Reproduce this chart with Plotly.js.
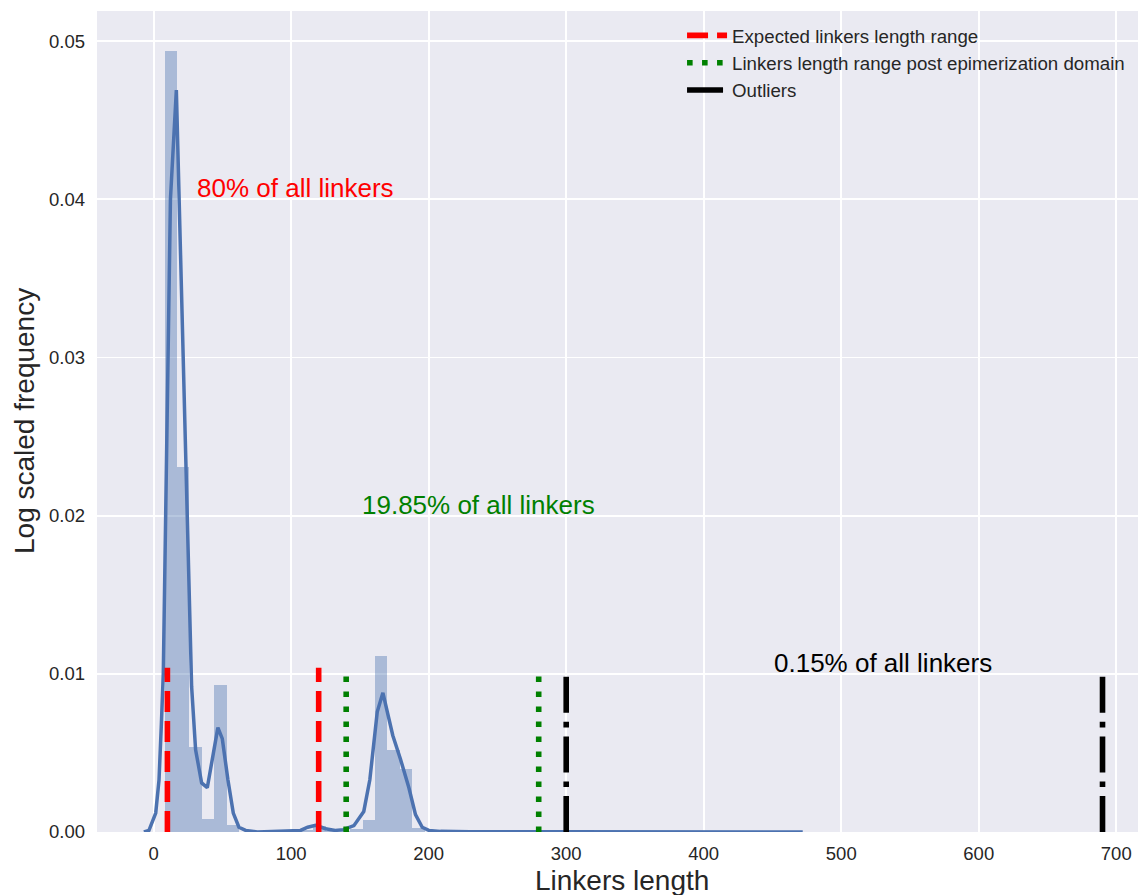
<!DOCTYPE html>
<html>
<head>
<meta charset="utf-8">
<script src="https://cdn.plot.ly/plotly-3.0.1.min.js"></script>
<style>html,body{margin:0;padding:0;background:#fff;}#chart{width:1138px;height:895px;}</style>
</head>
<body>
<div id="chart"></div>
<script>
// Histogram (density) — bin left edges and heights
const binWidth = 9;
const binLeft = [8, 17, 26, 35, 44, 53, 62, 71, 80, 89, 98, 107, 116, 125, 134, 143, 152, 161, 170, 179, 188, 197];
const binDensity = [0.0494, 0.0231, 0.0054, 0.00085, 0.0093, 0.00042, 0.00003, 0, 0, 0, 0.00002, 0.0001, 0.0004, 0.00005, 0.00005, 0.0002, 0.00074, 0.0111, 0.00516, 0.00396, 0.00028, 0.00003];

// KDE curve
const kdeX = [-7.1, -3.4, 1.5, 3.9, 5.6, 7.0, 12.2, 16.5, 27.6, 30.5, 34.9, 39.0, 46.7, 49.9, 54.0, 57.9, 62.0, 66.9, 75.4, 90, 100, 106.8, 112, 117.7, 122, 125, 132, 138, 145.6, 152.8, 157.2, 162.6, 166.7, 169.8, 173.9, 179.5, 185.6, 190.4, 195.3, 200.1, 208.6, 230, 260, 280, 300, 350, 400, 420, 440, 472];
const kdeY = [0, 0.0001, 0.0012, 0.0033, 0.0068, 0.0100, 0.0400, 0.0469, 0.0092, 0.0052, 0.0031, 0.0028, 0.0066, 0.0059, 0.0033, 0.0012, 0.0003, 0.0001, 0, 0.00003, 0.00005, 0.0001, 0.0003, 0.00042, 0.0003, 0.0002, 0.0001, 0.00015, 0.0004, 0.0013, 0.0033, 0.0076, 0.0088, 0.0077, 0.0061, 0.0046, 0.0028, 0.0011, 0.0003, 0.0001, 0.00004, 0.00002, 0.00004, 0.00002, 0.00001, 0.00001, 0.00002, 0.00005, 0.00002, 0];

// Vertical range markers
const expectedX = [10, 120];
const postEpimX = [140, 280];
const outlierX = [300, 690];
const markerTop = 0.01038;
const legendNames = ["Expected linkers length range", "Linkers length range post epimerization domain", "Outliers"];

// Annotations
const noteText = ["80% of all linkers", "19.85% of all linkers", "0.15% of all linkers"];
const noteX = [30, 150, 450];
const noteY = [0.04, 0.02, 0.01];
const noteColor = ["red", "green", "black"];

const xTicks = [0, 100, 200, 300, 400, 500, 600, 700];
const yTicks = [0, 0.01, 0.02, 0.03, 0.04, 0.05];

const FONT = "Arial, 'Liberation Sans', sans-serif";
const traces = [];

traces.push({
  type: 'bar', x: binLeft, y: binDensity, width: binWidth, offset: 0,
  marker: {color: 'rgba(76,114,176,0.4)', line: {width: 0}},
  showlegend: false, hoverinfo: 'skip'
});
traces.push({
  type: 'scatter', mode: 'lines', x: kdeX, y: kdeY,
  line: {color: '#4C72B0', width: 3.5},
  showlegend: false, hoverinfo: 'skip'
});

function vlines(xs, name, color, dash) {
  xs.forEach((x, i) => {
    traces.push({
      type: 'scatter', mode: 'lines', x: [x, x], y: [0, markerTop],
      name: name, legendgroup: name, showlegend: i === 0,
      line: {color: color, width: 5.6, dash: dash}, hoverinfo: 'skip'
    });
  });
}
vlines(expectedX, legendNames[0], 'red', '21px,9px');
vlines(postEpimX, legendNames[1], 'green', '5.6px,9.4px');
vlines(outlierX, legendNames[2], 'black', '36px,9px,5.6px,9px');

const annotations = noteText.map((t, i) => ({
  x: noteX[i], y: noteY[i], xref: 'x', yref: 'y', text: t, showarrow: false,
  xanchor: 'left', yanchor: 'bottom', yshift: -6,
  font: {family: FONT, size: 26, color: noteColor[i]}
}));
annotations.push({
  x: 0.5, y: 0, xref: 'paper', yref: 'paper', text: 'Linkers length', showarrow: false,
  xanchor: 'center', yanchor: 'top', yshift: -31, xshift: 4,
  font: {family: FONT, size: 28, color: '#262626'}
});
annotations.push({
  x: 0, y: 0.5, xref: 'paper', yref: 'paper', text: 'Log scaled frequency', showarrow: false,
  xanchor: 'right', yanchor: 'middle', xshift: -55, textangle: -90,
  font: {family: FONT, size: 28, color: '#262626'}
});

const layout = {
  width: 1138, height: 895,
  margin: {l: 97, r: 0, t: 11, b: 63, pad: 0},
  paper_bgcolor: '#ffffff', plot_bgcolor: '#EAEAF2',
  font: {family: FONT, size: 18.7, color: '#262626'},
  bargap: 0,
  showlegend: true,
  legend: {
    x: 0.562, xanchor: 'left', y: 0.993, yanchor: 'top',
    bgcolor: 'rgba(0,0,0,0)', borderwidth: 0,
    font: {family: FONT, size: 18.7, color: '#262626'},
    tracegroupgap: 0, itemwidth: 40
  },
  xaxis: {
    range: [-41.2, 715.8], tickvals: xTicks, ticktext: xTicks.map(String),
    showgrid: true, gridcolor: '#ffffff', gridwidth: 1.8, zeroline: false,
    showline: false, ticks: '', ticklabelstandoff: 8,
    tickfont: {family: FONT, size: 18.5, color: '#262626'}
  },
  yaxis: {
    range: [0, 0.0519], tickvals: yTicks, ticktext: yTicks.map(v => v.toFixed(2)),
    showgrid: true, gridcolor: '#ffffff', gridwidth: 1.8, zeroline: false,
    showline: false, ticks: '', ticklabelstandoff: 11,
    tickfont: {family: FONT, size: 18.5, color: '#262626'}
  },
  annotations: annotations
};

Plotly.newPlot('chart', traces, layout, {displayModeBar: false, staticPlot: true});
</script>
</body>
</html>
